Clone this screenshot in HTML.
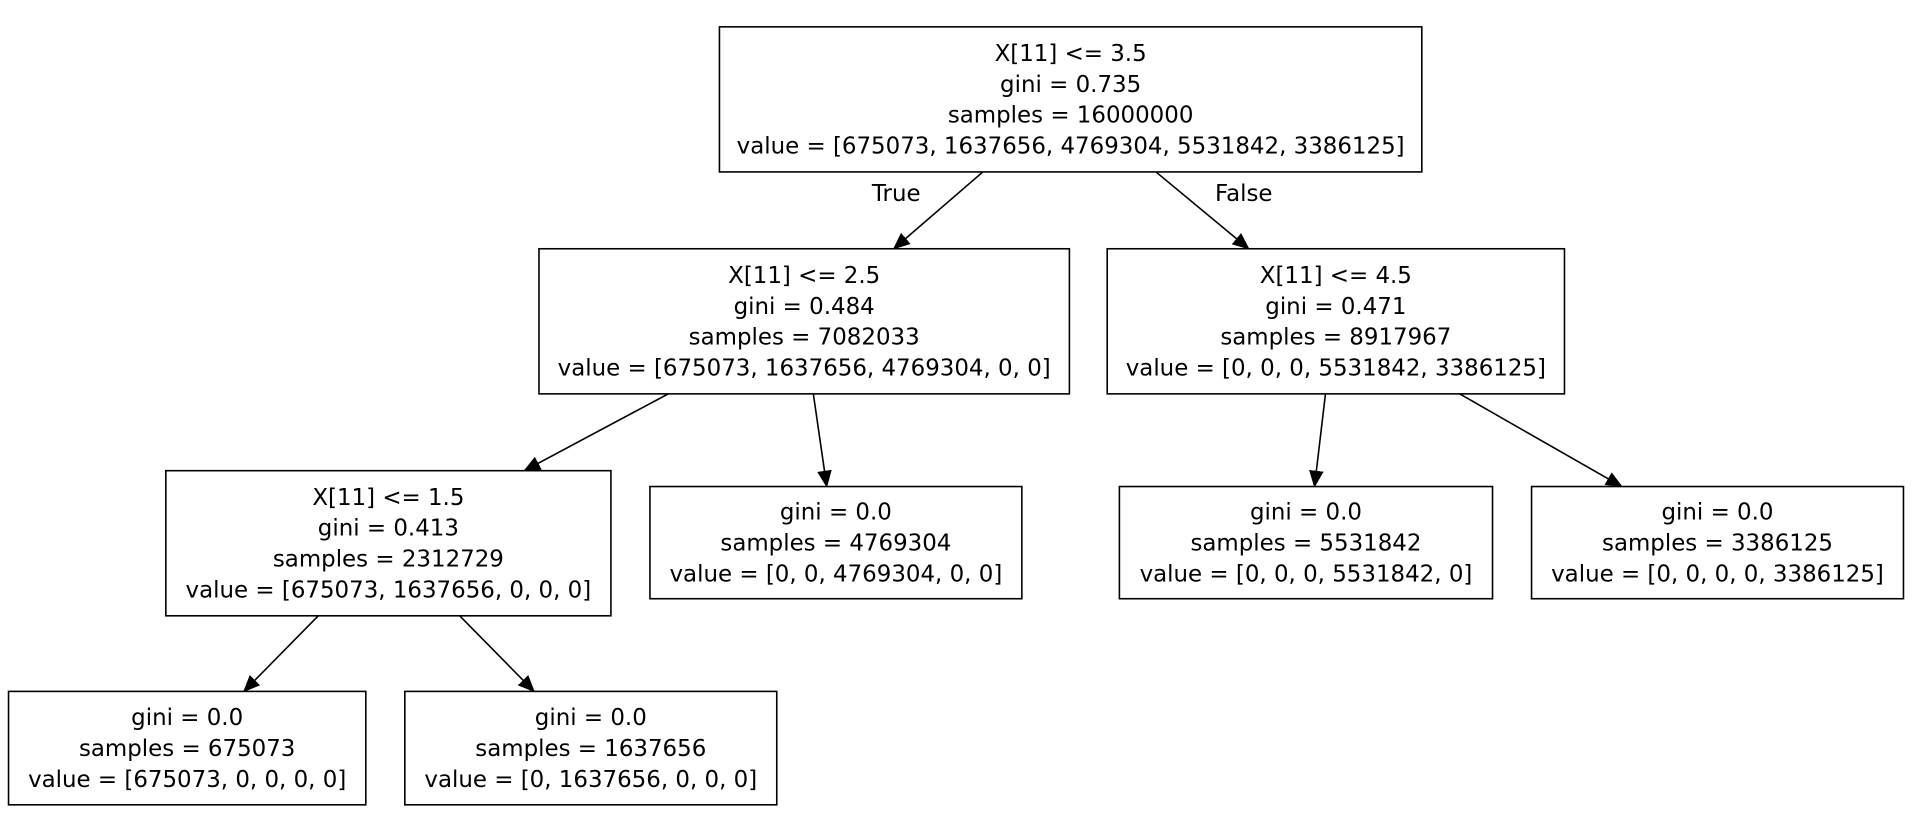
<!DOCTYPE html>
<html><head><meta charset="utf-8"><style>
html,body{margin:0;padding:0;background:#fff;}
svg{display:block;}
text{font-family:"DejaVu Sans","Liberation Sans",sans-serif;font-size:18.8px;fill:#000;}
</style></head><body>
<svg width="1912" height="817" viewBox="0 0 1568 670" preserveAspectRatio="none" xmlns="http://www.w3.org/2000/svg">
<defs><marker id="ah" markerWidth="14" markerHeight="12" refX="13" refY="6" orient="auto" markerUnits="userSpaceOnUse"><path d="M0,0 L14,6 L0,12 z" fill="#000"/></marker></defs>
<g id="edges"></g>
<g id="nodes"></g>
<text x="735" y="165" text-anchor="middle">True</text>
<text x="1020" y="165" text-anchor="middle">False</text>
</svg>
<script>
const nodeNames=['root','node-left','node-right','node-ll','node-lr','node-rl','node-rr','node-lll','node-llr'];
const nodeLines=[
['X[11] <= 3.5','gini = 0.735','samples = 16000000','value = [675073, 1637656, 4769304, 5531842, 3386125]'],
['X[11] <= 2.5','gini = 0.484','samples = 7082033','value = [675073, 1637656, 4769304, 0, 0]'],
['X[11] <= 4.5','gini = 0.471','samples = 8917967','value = [0, 0, 0, 5531842, 3386125]'],
['X[11] <= 1.5','gini = 0.413','samples = 2312729','value = [675073, 1637656, 0, 0, 0]'],
['gini = 0.0','samples = 4769304','value = [0, 0, 4769304, 0, 0]'],
['gini = 0.0','samples = 5531842','value = [0, 0, 0, 5531842, 0]'],
['gini = 0.0','samples = 3386125','value = [0, 0, 0, 0, 3386125]'],
['gini = 0.0','samples = 675073','value = [675073, 0, 0, 0, 0]'],
['gini = 0.0','samples = 1637656','value = [0, 1637656, 0, 0, 0]']];
const boxes=[[590,22,1166,141],[442,204,877,323],[908,204,1283,323],[136,386,501,505],[533,399,838,491],[918,399,1224,491],[1256,399,1561,491],[7,567,300,660],[332,567,637,660]];
const edges=[[806,141,733,204],[948,141,1024,204],[548,323,430,386],[667,323,678,399],[1087,323,1078,399],[1197,323,1330,399],[261,505,200,567],[377,505,438,567]];
const NS='http://www.w3.org/2000/svg';
const eg=document.getElementById('edges'),ng=document.getElementById('nodes');
edges.forEach((e,i)=>{const l=document.createElementNS(NS,'line');
l.setAttribute('x1',e[0]);l.setAttribute('y1',e[1]);l.setAttribute('x2',e[2]);l.setAttribute('y2',e[3]);
l.setAttribute('stroke','#000');l.setAttribute('stroke-width','1.3');l.setAttribute('marker-end','url(#ah)');


eg.appendChild(l);});
boxes.forEach((b,i)=>{const g=document.createElementNS(NS,'g');


const r=document.createElementNS(NS,'rect');
r.setAttribute('x',b[0]);r.setAttribute('y',b[1]);r.setAttribute('width',b[2]-b[0]);r.setAttribute('height',b[3]-b[1]);
r.setAttribute('fill','#fff');r.setAttribute('stroke','#000');r.setAttribute('stroke-width','1.3');
g.appendChild(r);
const lines=nodeLines[i],cx=(b[0]+b[2])/2,cy=(b[1]+b[3])/2,lh=25.3;
lines.forEach((s,j)=>{const t=document.createElementNS(NS,'text');
t.setAttribute('x',cx);t.setAttribute('y',cy+(j-(lines.length-1)/2)*lh+6.5);t.setAttribute('text-anchor','middle');
t.textContent=s;


g.appendChild(t);});
ng.appendChild(g);});
</script>
</body></html>
